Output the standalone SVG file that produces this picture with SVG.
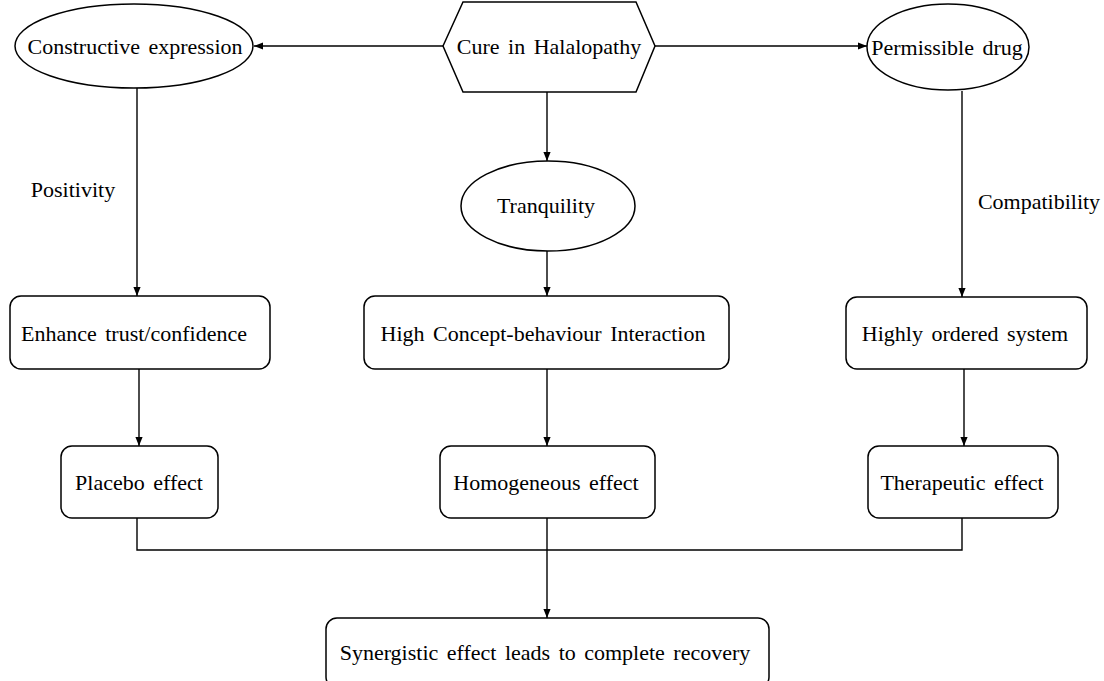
<svg xmlns="http://www.w3.org/2000/svg" width="1104" height="681" viewBox="0 0 1104 681">
<style>
.s{fill:#fff;stroke:#000;stroke-width:1.5}
.t{font-family:"Liberation Serif","Times New Roman",serif;font-size:22px;fill:#000;text-anchor:middle;word-spacing:3px}
.c{fill:none;stroke:#000;stroke-width:1.4}
</style>
<defs>
<marker id="ah" viewBox="0 0 10 10" refX="10" refY="5" markerWidth="9" markerHeight="9" markerUnits="userSpaceOnUse" orient="auto">
<path d="M0,1 L10,5 L0,9 Z" fill="#000"/>
</marker>
</defs>
<rect width="1104" height="681" fill="#fff"/>
<g id="connectors">
<line class="c" x1="443" y1="46" x2="254" y2="46" marker-end="url(#ah)"/>
<line class="c" x1="655" y1="46" x2="867" y2="46" marker-end="url(#ah)"/>
<line class="c" x1="547" y1="92" x2="547" y2="161" marker-end="url(#ah)"/>
<line class="c" x1="137" y1="88" x2="137" y2="296" marker-end="url(#ah)"/>
<line class="c" x1="962" y1="91" x2="962" y2="297" marker-end="url(#ah)"/>
<line class="c" x1="547" y1="251" x2="547" y2="296" marker-end="url(#ah)"/>
<line class="c" x1="139" y1="369" x2="139" y2="446" marker-end="url(#ah)"/>
<line class="c" x1="547" y1="369" x2="547" y2="446" marker-end="url(#ah)"/>
<line class="c" x1="964" y1="369" x2="964" y2="446" marker-end="url(#ah)"/>
<polyline class="c" points="137,518 137,550 962,550 962,518"/>
<line class="c" x1="547" y1="518" x2="547" y2="618" marker-end="url(#ah)"/>
<text class="t" x="73" y="197">Positivity</text>
<text class="t" x="1039" y="209">Compatibility</text>
</g>
<g id="cure">
<polygon class="s" points="443,46 463,2 636,2 655,46 636,92 463,92"/>
<text class="t" x="549" y="54">Cure in Halalopathy</text>
</g>
<g id="constructive">
<ellipse class="s" cx="134" cy="46" rx="119" ry="42"/>
<text class="t" x="135" y="54">Constructive expression</text>
</g>
<g id="permissible">
<ellipse class="s" cx="948" cy="47" rx="81" ry="43"/>
<text class="t" x="947" y="55">Permissible drug</text>
</g>
<g id="tranquility">
<ellipse class="s" cx="548" cy="206" rx="87" ry="45"/>
<text class="t" x="546" y="213">Tranquility</text>
</g>
<g id="enhance">
<rect class="s" x="10" y="296" width="260" height="73" rx="11"/>
<text class="t" x="134" y="341">Enhance trust/confidence</text>
</g>
<g id="highconcept">
<rect class="s" x="364" y="296" width="365" height="73" rx="11"/>
<text class="t" x="543" y="341">High Concept-behaviour Interaction</text>
</g>
<g id="highly">
<rect class="s" x="846" y="297" width="241" height="72" rx="11"/>
<text class="t" x="965" y="341">Highly ordered system</text>
</g>
<g id="placebo">
<rect class="s" x="61" y="446" width="157" height="72" rx="11"/>
<text class="t" x="139" y="490">Placebo effect</text>
</g>
<g id="homogeneous">
<rect class="s" x="440" y="446" width="215" height="72" rx="11"/>
<text class="t" x="546" y="490">Homogeneous effect</text>
</g>
<g id="therapeutic">
<rect class="s" x="868" y="446" width="190" height="72" rx="11"/>
<text class="t" x="962" y="490">Therapeutic effect</text>
</g>
<g id="synergistic">
<rect class="s" x="326" y="618" width="443" height="70" rx="11"/>
<text class="t" x="545" y="660">Synergistic effect leads to complete recovery</text>
</g>
</svg>
